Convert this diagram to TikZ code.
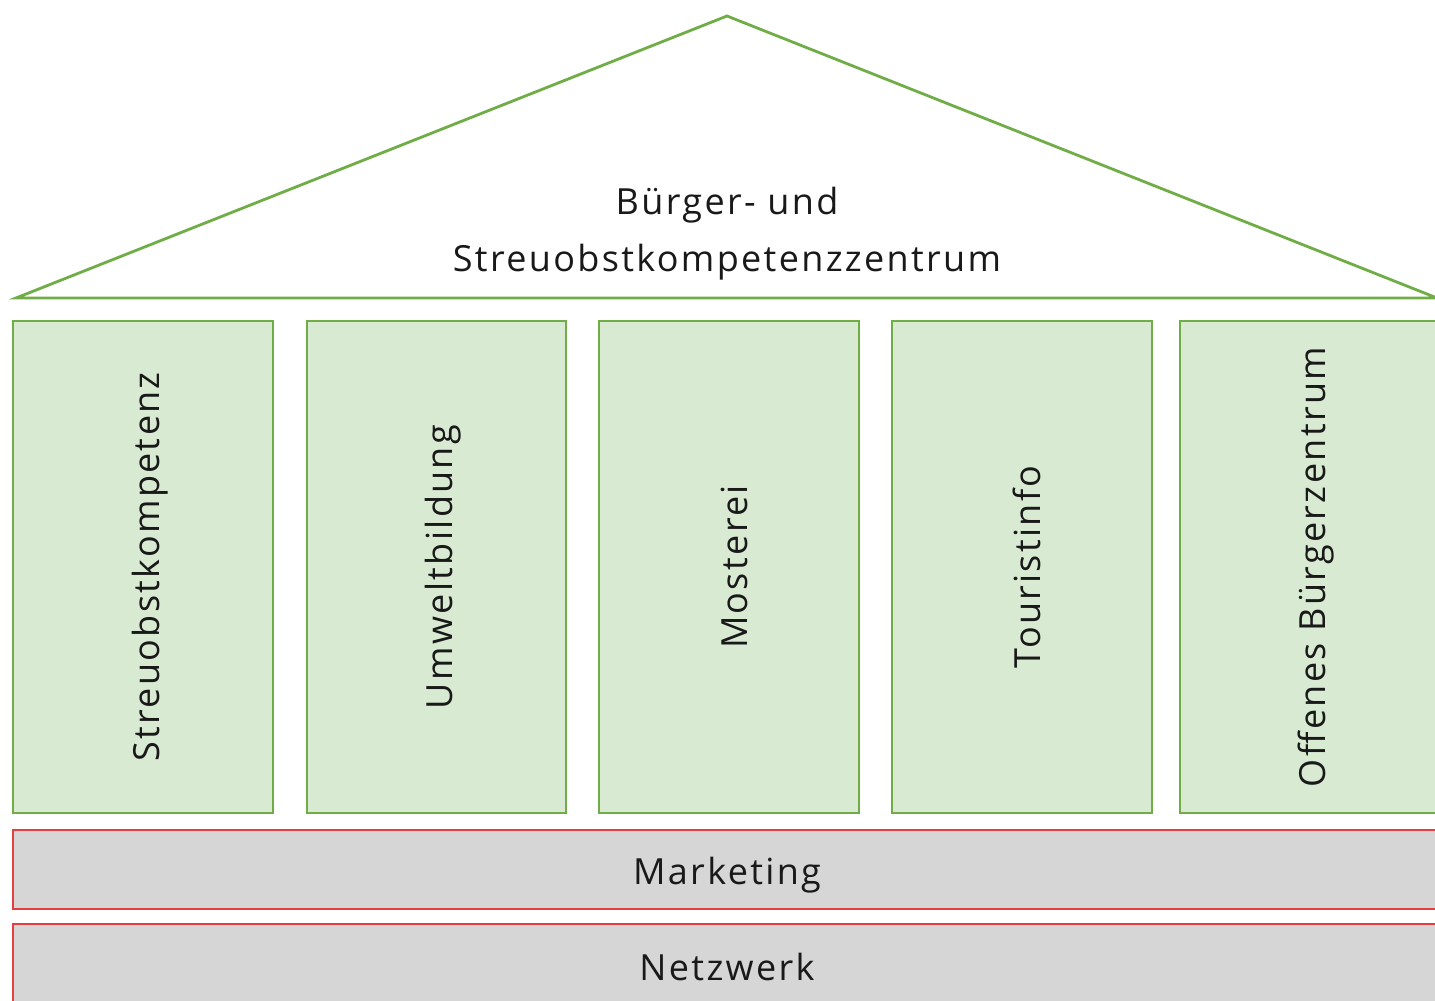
\documentclass[tikz,border=0pt]{standalone}
\usepackage{fontspec}
\setmainfont{Open Sans}[LetterSpace=6.5]
\definecolor{gstroke}{RGB}{112,173,71}
\definecolor{gfill}{RGB}{217,234,211}
\definecolor{rstroke}{RGB}{228,62,62}
\definecolor{gray}{RGB}{214,214,214}
\begin{document}
\begin{tikzpicture}[x=1pt,y=-1pt,
  pillar/.style={draw=gstroke,fill=gfill,line width=2.8pt},
  base/.style={draw=rstroke,fill=gray,line width=2.8pt},
  roof/.style={draw=gstroke,line width=2.8pt,line join=miter},
  lbl/.style={font=\fontsize{36}{57}\selectfont,text=black!90,inner sep=0pt}]
\useasboundingbox (0,0) rectangle (1435,1001);
\clip (0,0) rectangle (1435,1001);
\fill[white] (0,0) rectangle (1435,1001);
% roof
\coordinate (rl) at (16,298);
\coordinate (ra) at (727,16);
\coordinate (rr) at (1437,298);
\draw[roof] (rl) -- (ra) -- (rr) -- cycle;
\node[lbl,align=center] (title) at (727,234) {Bürger- und\\Streuobstkompetenzzentrum};
% pillars
\draw[pillar] (13,321) rectangle (273,813);
\node[lbl,rotate=90] (p1) at (150,567) {Streuobstkompetenz};
\draw[pillar] (307,321) rectangle (566,813);
\node[lbl,rotate=90] (p2) at (443,567) {Umweltbildung};
\draw[pillar] (599,321) rectangle (859,813);
\node[lbl,rotate=90] (p3) at (734,567) {Mosterei};
\draw[pillar] (892,321) rectangle (1152,813);
\node[lbl,rotate=90] (p4) at (1027,567) {Touristinfo};
\draw[pillar] (1180,321) rectangle (1445,813);
\node[lbl,rotate=90] (p5) at (1316,567) {Offenes Bürgerzentrum};
% base bars
\draw[base] (13,830) rectangle (1445,909);
\node[lbl] (m) at (727,875) {Marketing};
\draw[base] (13,924) rectangle (1445,1010);
\node[lbl] (n) at (727,967) {Netzwerk};
\end{tikzpicture}
\end{document}
